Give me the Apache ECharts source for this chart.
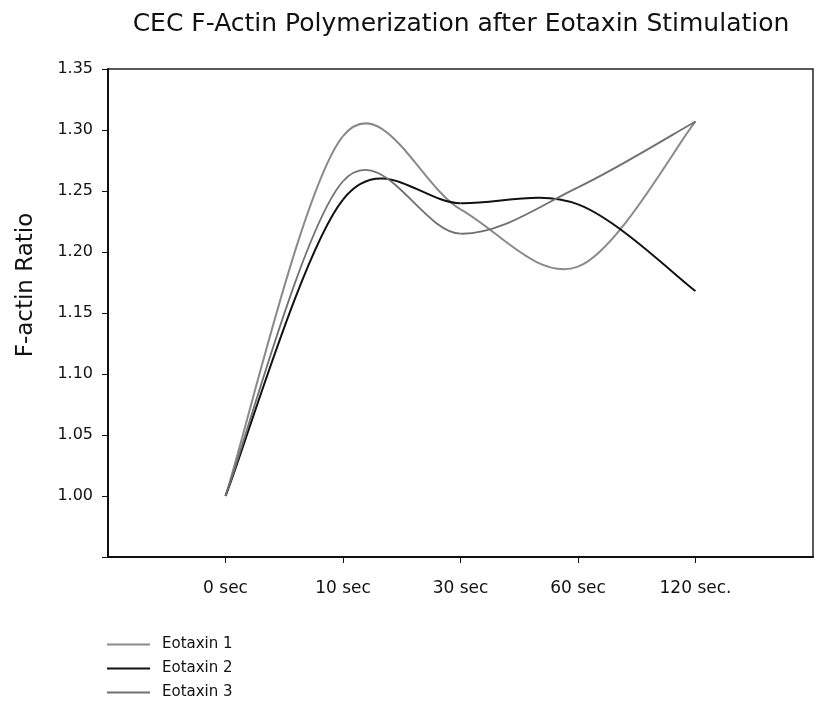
<!DOCTYPE html>
<html>
<head>
<meta charset="utf-8">
<script src="https://cdn.jsdelivr.net/npm/echarts@6/dist/echarts.min.js"></script>
<style>
  html, body { margin: 0; padding: 0; background: #fff; }
  #chart { width: 816px; height: 706px; }
</style>
</head>
<body>
<div id="chart"></div>
<script>
// time points (x positions 0..4) and their labels
const timeLabels = ['0 sec', '10 sec', '30 sec', '60 sec', '120 sec.'];
const timeIndex = [0, 1, 2, 3, 4];

// F-actin ratio
const eotaxin1 = [1.00, 1.295, 1.235, 1.188, 1.307];
const eotaxin2 = [1.00, 1.243, 1.240, 1.239, 1.168];
const eotaxin3 = [1.00, 1.258, 1.215, 1.253, 1.307];

const yTicks = [1.00, 1.05, 1.10, 1.15, 1.20, 1.25, 1.30, 1.35];

const FONT = 'DejaVu Sans';

function pairs(values) {
  return values.map((v, i) => [timeIndex[i], v]);
}

/**
 * Catmull-Rom style smooth curve (like the spreadsheet "smoothed line"):
 * each segment is one bezier, control points taken from the neighbouring
 * data points after they went through the axes (api.coord).
 */
function splineSeries(name, values, color, width) {
  return {
    name: name,
    type: 'custom',
    data: pairs(values),
    encode: { x: 0, y: 1 },
    itemStyle: { color: color },
    clip: true,
    renderItem: function (params, api) {
      const i = params.dataIndex;
      if (i >= values.length - 1) return null;
      const pt = j => {
        const k = Math.max(0, Math.min(values.length - 1, j));
        return api.coord([timeIndex[k], values[k]]);
      };
      const p0 = pt(i - 1), p1 = pt(i), p2 = pt(i + 1), p3 = pt(i + 2);
      return {
        type: 'bezierCurve',
        shape: {
          x1: p1[0], y1: p1[1],
          x2: p2[0], y2: p2[1],
          cpx1: p1[0] + (p2[0] - p0[0]) / 6,
          cpy1: p1[1] + (p2[1] - p0[1]) / 6,
          cpx2: p2[0] - (p3[0] - p1[0]) / 6,
          cpy2: p2[1] - (p3[1] - p1[1]) / 6
        },
        style: { stroke: color, lineWidth: width, fill: null }
      };
    }
  };
}

const chart = echarts.init(document.getElementById('chart'));

const option = {
  animation: false,
  backgroundColor: '#fff',
  textStyle: { fontFamily: FONT, color: '#111' },
  title: {
    text: 'CEC F-Actin Polymerization after Eotaxin Stimulation',
    left: 456,
    top: 7,
    textAlign: 'center',
    textStyle: { fontFamily: FONT, fontSize: 25, fontWeight: 'normal', color: '#111' }
  },
  grid: {
    left: 108, right: 3, top: 69, bottom: 149,
    show: true, borderColor: '#222', borderWidth: 1.5
  },
  legend: {
    orient: 'vertical',
    left: 107,
    top: 637,
    height: 70,
    padding: 0,
    icon: 'rect',
    itemWidth: 43,
    itemHeight: 2,
    itemGap: 9,
    textStyle: { fontFamily: FONT, fontSize: 15, color: '#111', padding: [0, 0, 0, 7] },
    data: ['Eotaxin 1', 'Eotaxin 2', 'Eotaxin 3']
  },
  xAxis: {
    type: 'value',
    min: -1,
    max: 5,
    interval: 1,
    splitLine: { show: false },
    axisLine: { onZero: false, lineStyle: { color: '#111', width: 2 } },
    axisTick: { show: true, length: 6, customValues: timeIndex, lineStyle: { color: '#111' } },
    axisLabel: {
      customValues: timeIndex,
      margin: 23,
      fontFamily: FONT, fontSize: 17, color: '#111',
      formatter: v => timeLabels[v] || ''
    }
  },
  yAxis: {
    type: 'value',
    min: 0.95,
    max: 1.35,
    interval: 0.05,
    name: 'F-actin Ratio',
    nameLocation: 'middle',
    nameGap: 70,
    nameTextStyle: { fontFamily: FONT, fontSize: 23, color: '#111', padding: [0, 0, 0, 56] },
    splitLine: { show: false },
    axisLine: { onZero: false, lineStyle: { color: '#111', width: 2 } },
    axisTick: { show: true, length: 6, lineStyle: { color: '#111' } },
    axisLabel: {
      customValues: yTicks,
      margin: 15,
      fontFamily: FONT, fontSize: 16, color: '#111',
      formatter: v => v.toFixed(2)
    }
  },
  series: [
    splineSeries('Eotaxin 1', eotaxin1, '#8a8a8a', 2),
    splineSeries('Eotaxin 2', eotaxin2, '#111111', 2),
    splineSeries('Eotaxin 3', eotaxin3, '#707070', 1.8)
  ]
};

chart.setOption(option);
</script>
</body>
</html>
